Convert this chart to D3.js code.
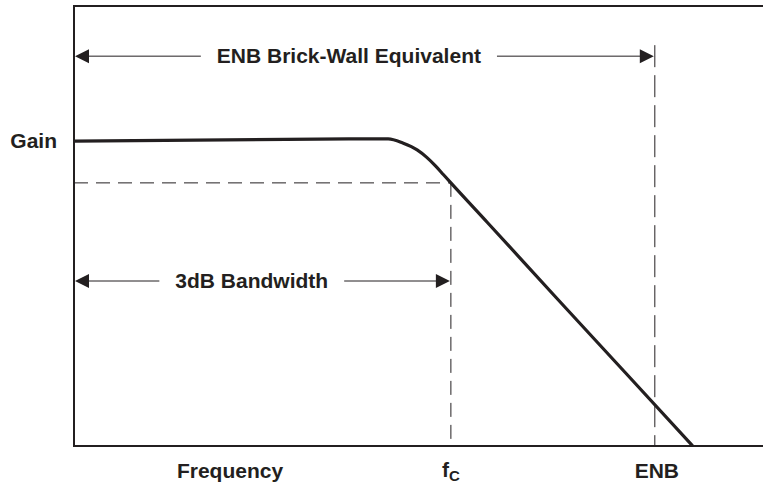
<!DOCTYPE html>
<html>
<head>
<meta charset="utf-8">
<script src="https://cdn.jsdelivr.net/npm/d3@7"></script>
<style>
  body { margin: 0; background: #fff; }
  text { font-family: "Liberation Sans", Arial, sans-serif; font-weight: bold; fill: #231f20; }
</style>
</head>
<body>
<script>
// frequency response of the filter (abstract units)
var freq = [0, 4.15, 4.56, 4.78, 4.98, 5.12, 5.25, 5.36, 5.47, 6.0, 7.0, 8.0, 8.98];
var gain = [6.93, 6.98, 6.98, 6.88, 6.73, 6.56, 6.36, 6.17, 5.98, 5.08, 3.37, 1.67, 0];

// marker positions
var fc = 5.47, enb = 8.43;
var gainLevel = 6.93, level3dB = 5.98;

// annotation arrows
var arrowLabels = ["ENB Brick-Wall Equivalent", "3dB Bandwidth"];
var arrowY = [8.86, 3.75];
var arrowEnd = [enb, fc];
var arrowTextX = [3.99, 2.58];

var width = 763, height = 486;
var ink = "#231f20";

var svg = d3.select("body").append("svg")
  .attr("width", width).attr("height", height);

var x = d3.scaleLinear().domain([0, 10]).range([74, 763]);
var y = d3.scaleLinear().domain([0, 10]).range([446, 6]);

// frame: left, top, bottom
svg.append("path")
  .attr("d", "M" + x(10) + "," + y(10) + "H" + x(0) + "V" + y(0) + "H" + x(10))
  .attr("fill", "none").attr("stroke", ink).attr("stroke-width", 2);

// dashed guide lines
var dash = "14,8";
svg.append("line")
  .attr("x1", x(0)).attr("x2", x(fc)).attr("y1", y(level3dB)).attr("y2", y(level3dB))
  .attr("stroke", ink).attr("stroke-width", 1).attr("stroke-dasharray", dash);
svg.append("line")
  .attr("x1", x(fc)).attr("x2", x(fc)).attr("y1", y(level3dB)).attr("y2", y(0))
  .attr("stroke", ink).attr("stroke-width", 1).attr("stroke-dasharray", dash);
svg.append("line")
  .attr("x1", x(enb)).attr("x2", x(enb)).attr("y1", y(9.11)).attr("y2", y(0))
  .attr("stroke", ink).attr("stroke-width", 1).attr("stroke-dasharray", "22,8");

// response curve
var pts = freq.map(function(f, i) { return [f, gain[i]]; });
svg.append("path")
  .datum(pts)
  .attr("d", d3.line()
    .x(function(d) { return x(d[0]); })
    .y(function(d) { return y(d[1]); })
    .curve(d3.curveMonotoneX))
  .attr("fill", "none").attr("stroke", ink).attr("stroke-width", 3.2);

// arrows with labels
arrowLabels.forEach(function(lbl, i) {
  var yy = y(arrowY[i]);
  var x0 = x(0), x1 = x(arrowEnd[i]);
  var t = svg.append("text")
    .attr("x", x(arrowTextX[i])).attr("y", yy + 7)
    .attr("text-anchor", "middle")
    .style("font-size", "21px")
    .text(lbl);
  var bb = t.node().getBBox();
  svg.append("line").attr("x1", x0 + 10).attr("x2", bb.x - 16)
    .attr("y1", yy).attr("y2", yy).attr("stroke", ink).attr("stroke-width", 1);
  svg.append("line").attr("x1", bb.x + bb.width + 16).attr("x2", x1 - 10)
    .attr("y1", yy).attr("y2", yy).attr("stroke", ink).attr("stroke-width", 1);
  svg.append("path")
    .attr("d", "M" + (x0 + 1) + "," + yy + "L" + (x0 + 15) + "," + (yy - 7) + "L" + (x0 + 15) + "," + (yy + 7) + "Z")
    .attr("fill", ink);
  svg.append("path")
    .attr("d", "M" + (x1 - 1) + "," + yy + "L" + (x1 - 15) + "," + (yy - 7) + "L" + (x1 - 15) + "," + (yy + 7) + "Z")
    .attr("fill", ink);
});

// axis labels
svg.append("text").attr("x", 57).attr("y", y(gainLevel) + 7)
  .attr("text-anchor", "end").style("font-size", "21px").text("Gain");
svg.append("text").attr("x", 230).attr("y", 478)
  .attr("text-anchor", "middle").style("font-size", "21px").text("Frequency");
svg.append("text").attr("x", x(enb) + 2).attr("y", 478)
  .attr("text-anchor", "middle").style("font-size", "21px").text("ENB");
var fcText = svg.append("text").attr("x", x(fc) - 9).attr("y", 477).style("font-size", "21px");
fcText.append("tspan").text("f");
fcText.append("tspan").attr("dy", 4).style("font-size", "15px").text("C");
</script>
</body>
</html>
